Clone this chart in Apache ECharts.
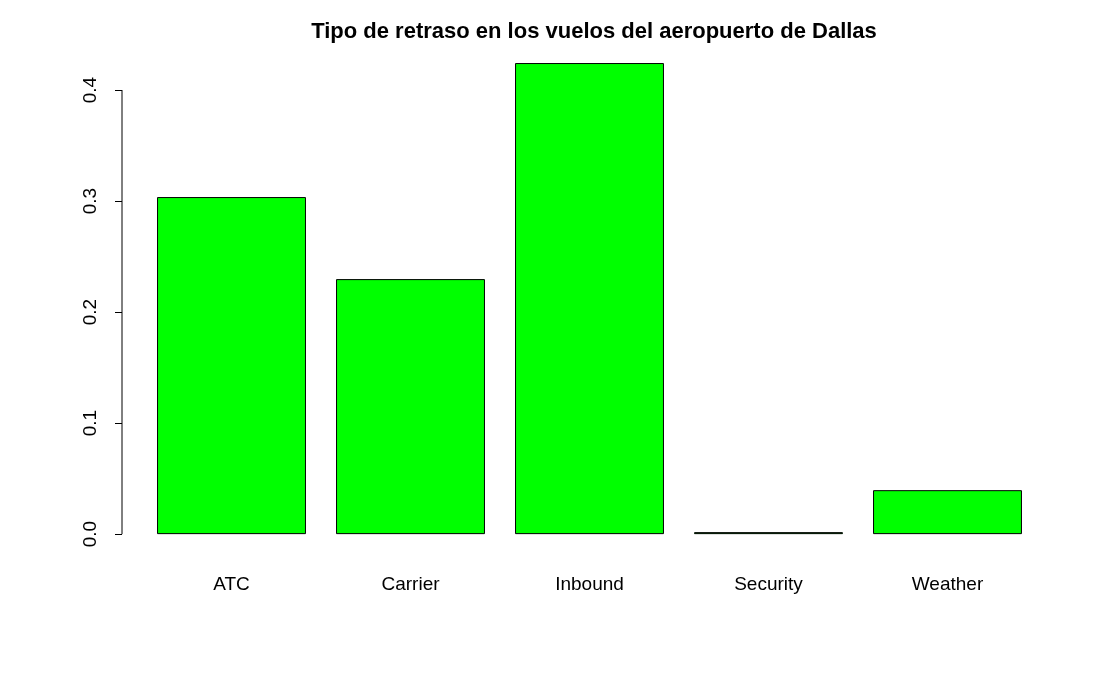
<!DOCTYPE html>
<html>
<head>
<meta charset="utf-8">
<script src="https://cdn.jsdelivr.net/npm/echarts@6/dist/echarts.min.js"></script>
<style>
  html, body { margin: 0; padding: 0; background: #fff; }
  #chart { width: 1120px; height: 692px; }
</style>
</head>
<body>
<div id="chart"></div>
<script>
// tipos de retraso y su proporcion
const categories = ["ATC", "Carrier", "Inbound", "Security", "Weather"];
const values = [0.3036, 0.2297, 0.4243, 0.0018, 0.0396];
const yTicks = [0, 0.1, 0.2, 0.3, 0.4];

const chart = echarts.init(document.getElementById("chart"));
const font = "Liberation Sans, Arial, sans-serif";

chart.setOption({
  animation: false,
  title: {
    text: "Tipo de retraso en los vuelos del aeropuerto de Dallas",
    left: 589,
    textAlign: "center",
    top: 16,
    textStyle: { fontFamily: font, fontSize: 22, fontWeight: "bold", color: "#000" },
  },
  grid: { left: 142, right: 83, top: 44.5, bottom: 139 },
  xAxis: {
    type: "category",
    data: categories,
    axisLine: { show: false },
    axisTick: { show: false },
    axisLabel: { fontFamily: font, fontSize: 19, color: "#000", margin: 22 },
  },
  yAxis: {
    type: "value",
    min: -0.017,
    max: 0.441,
    offset: 20,
    splitLine: { show: false },
    axisLine: { show: false },
    axisTick: { show: true, length: 7, lineStyle: { color: "#000" }, customValues: yTicks },
    axisLabel: {
      fontFamily: font, fontSize: 19, color: "#000", rotate: 90, margin: 22,
      customValues: yTicks,
      formatter: (v) => v.toFixed(1),
    },
  },
  series: [
    {
      type: "bar",
      data: values,
      barCategoryGap: "16.8%",
      itemStyle: { color: "#00ff00", borderColor: "#000", borderWidth: 1 },
    },
  ],
});

// eje y solo de 0 a 0.4, como en R
const p0 = chart.convertToPixel({ gridIndex: 0 }, [0, yTicks[0]]);
const p1 = chart.convertToPixel({ gridIndex: 0 }, [0, yTicks[yTicks.length - 1]]);
const ax = 122;
chart.setOption({
  graphic: [{
    type: "line",
    shape: { x1: ax, y1: p0[1], x2: ax, y2: p1[1] },
    style: { stroke: "#000", lineWidth: 1 },
  }],
});
</script>
</body>
</html>
